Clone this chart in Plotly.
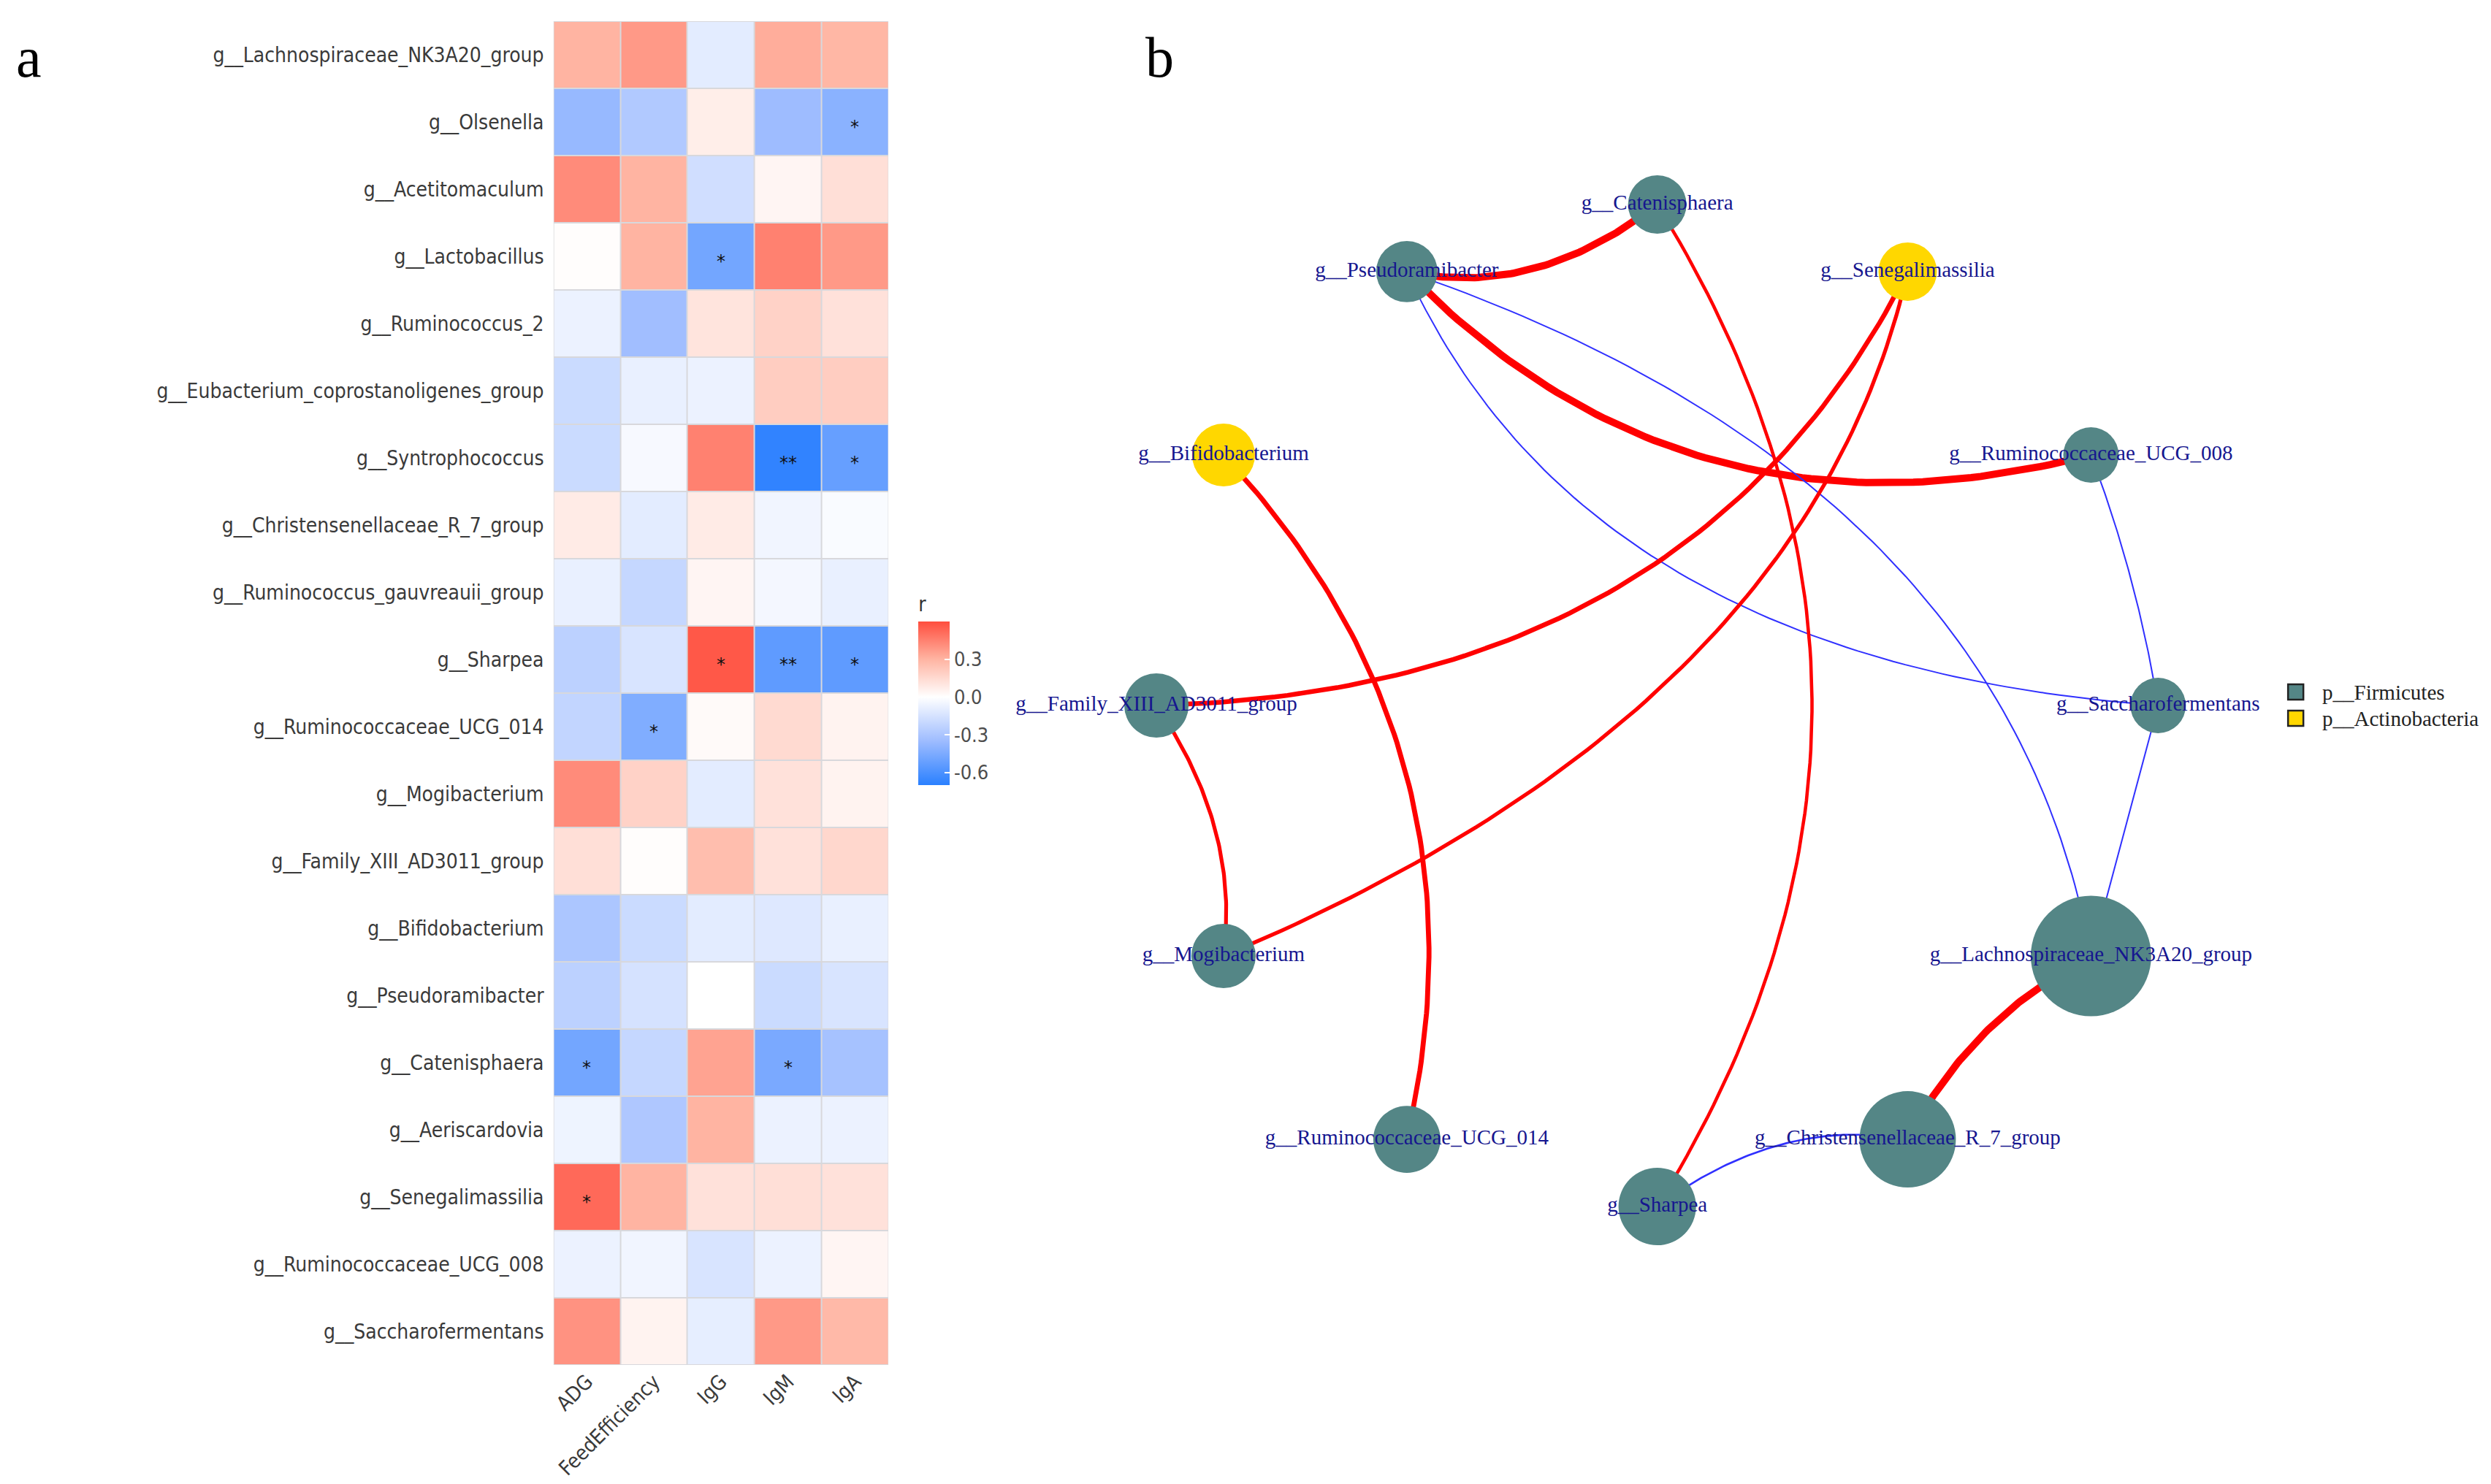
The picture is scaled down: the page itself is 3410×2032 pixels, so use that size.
import numpy as np
import plotly.graph_objects as go

# ---------------- data: panel a (correlation heatmap) ----------------
genera = ["g__Lachnospiraceae_NK3A20_group", "g__Olsenella", "g__Acetitomaculum",
          "g__Lactobacillus", "g__Ruminococcus_2", "g__Eubacterium_coprostanoligenes_group",
          "g__Syntrophococcus", "g__Christensenellaceae_R_7_group",
          "g__Ruminococcus_gauvreauii_group", "g__Sharpea", "g__Ruminococcaceae_UCG_014",
          "g__Mogibacterium", "g__Family_XIII_AD3011_group", "g__Bifidobacterium",
          "g__Pseudoramibacter", "g__Catenisphaera", "g__Aeriscardovia",
          "g__Senegalimassilia", "g__Ruminococcaceae_UCG_008", "g__Saccharofermentans"]
traits = ["ADG", "FeedEfficiency", "IgG", "IgM", "IgA"]

r_ADG = [0.30, -0.37, 0.42, 0.01, -0.07, -0.19, -0.19, 0.08, -0.08, -0.24,
         -0.22, 0.42, 0.13, -0.30, -0.24, -0.48, -0.06, 0.52, -0.07, 0.40]
r_FeedEfficiency = [0.38, -0.28, 0.30, 0.30, -0.34, -0.08, -0.03, -0.10, -0.21, -0.14,
                    -0.44, 0.18, 0.01, -0.19, -0.15, -0.21, -0.29, 0.30, -0.05, 0.05]
r_IgG = [-0.10, 0.07, -0.17, -0.48, 0.11, -0.07, 0.45, 0.08, 0.04, 0.57,
         0.02, -0.10, 0.26, -0.10, 0.00, 0.35, 0.30, 0.12, -0.14, -0.09]
r_IgM = [0.32, -0.35, 0.04, 0.45, 0.18, 0.20, -0.68, -0.05, -0.04, -0.54,
         0.15, 0.12, 0.12, -0.12, -0.19, -0.46, -0.07, 0.13, -0.07, 0.38]
r_IgA = [0.29, -0.41, 0.13, 0.38, 0.12, 0.20, -0.52, -0.02, -0.08, -0.54,
         0.05, 0.05, 0.16, -0.08, -0.14, -0.32, -0.07, 0.12, 0.04, 0.28]

sig_ADG = ["", "", "", "", "", "", "", "", "", "", "", "", "", "", "", "*", "", "*", "", ""]
sig_FeedEfficiency = ["", "", "", "", "", "", "", "", "", "", "*", "", "", "", "", "", "", "", "", ""]
sig_IgG = ["", "", "", "*", "", "", "", "", "", "*", "", "", "", "", "", "", "", "", "", ""]
sig_IgM = ["", "", "", "", "", "", "**", "", "", "**", "", "", "", "", "", "*", "", "", "", ""]
sig_IgA = ["", "*", "", "", "", "", "*", "", "", "*", "", "", "", "", "", "", "", "", "", ""]

colorbar_ticks = [-0.6, -0.3, 0.0, 0.3]

# ---------------- data: panel b (co-occurrence network) ----------------
nodes = ["g__Saccharofermentans", "g__Ruminococcaceae_UCG_008", "g__Senegalimassilia",
         "g__Catenisphaera", "g__Pseudoramibacter", "g__Bifidobacterium",
         "g__Family_XIII_AD3011_group", "g__Mogibacterium", "g__Ruminococcaceae_UCG_014",
         "g__Sharpea", "g__Christensenellaceae_R_7_group", "g__Lachnospiraceae_NK3A20_group"]
node_phylum = ["p__Firmicutes", "p__Firmicutes", "p__Actinobacteria", "p__Firmicutes",
               "p__Firmicutes", "p__Actinobacteria", "p__Firmicutes", "p__Firmicutes",
               "p__Firmicutes", "p__Firmicutes", "p__Firmicutes", "p__Firmicutes"]
node_weight = [0.90, 0.90, 1.00, 1.00, 1.10, 1.16, 1.21, 1.21, 1.32, 1.76, 2.72, 4.25]
phyla = ["p__Firmicutes", "p__Actinobacteria"]

edge_source = ["g__Pseudoramibacter", "g__Pseudoramibacter", "g__Pseudoramibacter",
               "g__Pseudoramibacter", "g__Catenisphaera", "g__Senegalimassilia",
               "g__Senegalimassilia", "g__Bifidobacterium", "g__Family_XIII_AD3011_group",
               "g__Ruminococcaceae_UCG_008", "g__Saccharofermentans",
               "g__Lachnospiraceae_NK3A20_group", "g__Christensenellaceae_R_7_group"]
edge_target = ["g__Catenisphaera", "g__Ruminococcaceae_UCG_008", "g__Saccharofermentans",
               "g__Lachnospiraceae_NK3A20_group", "g__Sharpea", "g__Family_XIII_AD3011_group",
               "g__Mogibacterium", "g__Ruminococcaceae_UCG_014", "g__Mogibacterium",
               "g__Saccharofermentans", "g__Lachnospiraceae_NK3A20_group",
               "g__Christensenellaceae_R_7_group", "g__Sharpea"]
edge_r = [0.85, 0.85, -0.60, -0.60, 0.68, 0.74, 0.70, 0.75, 0.70, -0.60, -0.60, 0.85, -0.62]

# ---------------- styles ----------------
edge_bend = [0.231, 0.29, 0.2875, -0.286, -0.309, -0.296, -0.248, -0.265, -0.19, -0.05, 0.0, 0.16, 0.214]
edge_skew = [-0.05, -0.013, -0.097, 0.087, 0.0, -0.046, -0.106, 0.0, 0.04, 0.0, 0.0, 0.0, -0.05]
phylum_color = {"p__Firmicutes": "#548686", "p__Actinobacteria": "#FFD700"}

W, H = 3410, 2032
label_font = "DejaVu Sans Condensed, Liberation Sans Narrow, Arial Narrow, sans-serif"
serif = "Liberation Serif, Times New Roman, serif"

fig = go.Figure()

# ---------------- heatmap ----------------
cols = [r_ADG, r_FeedEfficiency, r_IgG, r_IgM, r_IgA]
sigs = [sig_ADG, sig_FeedEfficiency, sig_IgG, sig_IgM, sig_IgA]
z = np.array(cols).T
zmin, zmax = -0.7, 0.6
mid = (0 - zmin) / (zmax - zmin)
cscale = [[0.0, "rgb(42,128,255)"],
          [mid * 0.5, "rgb(158,188,255)"],
          [mid, "rgb(255,255,255)"],
          [mid + (1 - mid) * 0.5, "rgb(255,180,162)"],
          [1.0, "rgb(255,78,62)"]]

xi = list(range(len(traits)))
yi = list(range(len(genera)))
bar_top, bar_bot = 805, 1067
fig.add_trace(go.Heatmap(
    z=z, x=xi, y=yi, zmin=zmin, zmax=zmax, colorscale=cscale,
    xgap=2, ygap=2, xaxis="x", yaxis="y", hoverinfo="skip",
    colorbar=dict(
        title=dict(text="r", side="top", font=dict(size=28, color="#333333", family=label_font)),
        tickvals=colorbar_ticks, ticktext=[f"{v:.1f}" for v in colorbar_ticks],
        tickfont=dict(size=27, color="#4d4d4d", family=label_font),
        ticks="inside", ticklen=7, tickcolor="white", tickwidth=2,
        thickness=43, thicknessmode="pixels", len=bar_bot - bar_top, lenmode="pixels",
        x=1248 / W, xanchor="left", y=1 - bar_bot / H, yanchor="bottom",
        xpad=0, ypad=0, outlinewidth=0,
    ),
))

annos = []
for j in range(len(traits)):
    for i in range(len(genera)):
        if sigs[j][i]:
            annos.append(dict(x=xi[j], y=yi[i], xref="x", yref="y", text=sigs[j][i],
                              showarrow=False, yshift=-7,
                              font=dict(size=24, color="#111111", family="DejaVu Sans")))

shapes = [dict(type="rect", xref="x", yref="y", x0=-0.5, x1=len(traits) - 0.5,
               y0=-0.5, y1=len(genera) - 0.5, fillcolor="#d8d8dc", line=dict(width=0),
               layer="below")]

# ---------------- network ----------------
cx, cy, R = 2260, 958, 686
n = len(nodes)
ang = np.arange(n) * 2 * np.pi / n
pos = {nm: (cx + R * np.cos(a), cy - R * np.sin(a)) for nm, a in zip(nodes, ang)}

t = np.linspace(0, 1, 80)
for s_, t_, r, b, sk in zip(edge_source, edge_target, edge_r, edge_bend, edge_skew):
    p0 = np.array(pos[s_]); p2 = np.array(pos[t_])
    d = p2 - p0
    L = np.hypot(*d)
    u = d / L
    nrm = np.array([-u[1], u[0]])
    c = (p0 + p2) / 2 + b * L * nrm + sk * L * u
    pts = ((1 - t)[:, None] ** 2) * p0 + (2 * t * (1 - t))[:, None] * c + (t[:, None] ** 2) * p2
    width = 2 + (abs(r) - 0.6) * 32
    color = "#FF0000" if r > 0 else "#3030FF"
    fig.add_trace(go.Scatter(x=pts[:, 0], y=pts[:, 1], mode="lines",
                             line=dict(color=color, width=width),
                             xaxis="x2", yaxis="y2", showlegend=False, hoverinfo="skip"))

fig.add_trace(go.Scatter(
    x=[pos[nm][0] for nm in nodes], y=[pos[nm][1] for nm in nodes],
    mode="markers+text", text=nodes, textposition="middle center", cliponaxis=False,
    textfont=dict(family=serif, size=29, color="#16168f"),
    marker=dict(size=[80 * np.sqrt(w) for w in node_weight],
                color=[phylum_color[p] for p in node_phylum], line=dict(width=0), opacity=1),
    xaxis="x2", yaxis="y2", showlegend=False, hoverinfo="skip"))

# legend (drawn as keys + labels)
leg_x0, leg_y0, leg_key, leg_step = 3124, 929, 21, 36
for k, ph in enumerate(phyla):
    yt = leg_y0 + k * leg_step
    shapes.append(dict(type="rect", xref="paper", yref="paper",
                       x0=leg_x0 / W, x1=(leg_x0 + leg_key) / W,
                       y0=1 - (yt + leg_key) / H, y1=1 - yt / H,
                       fillcolor=phylum_color[ph], line=dict(color="#222222", width=2.5)))
    annos.append(dict(x=(leg_x0 + 45) / W, y=1 - (yt + leg_key / 2) / H, xref="paper", yref="paper",
                      text=ph, showarrow=False, xanchor="left", yanchor="middle",
                      font=dict(family=serif, size=29, color="#222222")))

annos.append(dict(x=30 / W, y=1 - 70 / H, xref="paper", yref="paper", text="a", showarrow=False,
                  font=dict(family=serif, size=78, color="black"), xanchor="center", yanchor="middle"))
annos.append(dict(x=1578 / W, y=1 - 70 / H, xref="paper", yref="paper", text="b", showarrow=False,
                  font=dict(family=serif, size=78, color="black"), xanchor="center", yanchor="middle"))

fig.update_layout(
    width=W, height=H, margin=dict(l=0, r=0, t=0, b=0),
    paper_bgcolor="white", plot_bgcolor="rgba(0,0,0,0)", showlegend=False,
    xaxis=dict(domain=[748 / W, 1207 / W], range=[-0.5, len(traits) - 0.5],
               tickvals=xi, ticktext=traits, tickangle=-45, ticks="", showgrid=False,
               zeroline=False, showline=False, ticklabelstandoff=0,
               tickfont=dict(size=28, color="#3a3a3a", family=label_font)),
    yaxis=dict(domain=[1 - 1861 / H, 1 - 21 / H], range=[len(genera) - 0.5, -0.5],
               tickvals=yi, ticktext=genera, ticks="", showgrid=False, zeroline=False,
               showline=False, ticklabelstandoff=12,
               tickfont=dict(size=28, color="#3a3a3a", family=label_font)),
    xaxis2=dict(domain=[1300 / W, 1], range=[1300, W], visible=False, fixedrange=True, anchor="y2"),
    yaxis2=dict(domain=[0, 1], range=[H, 0], visible=False, fixedrange=True, anchor="x2"),
    annotations=annos, shapes=shapes,
)

fig.write_html("out.html")
